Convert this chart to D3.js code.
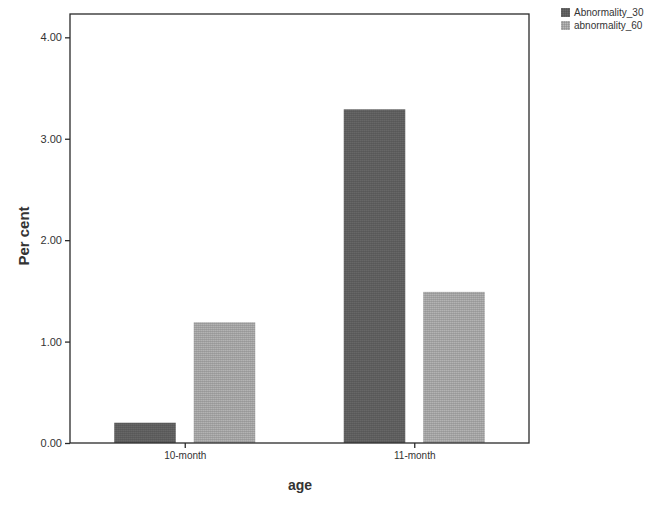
<!DOCTYPE html>
<html>
<head>
<meta charset="utf-8">
<script src="https://cdn.jsdelivr.net/npm/d3@7"></script>
<style>
  body { margin: 0; background: #fff; }
  svg text { font-family: "Liberation Sans", Arial, sans-serif; fill: #333; }
</style>
</head>
<body>
<div id="chart"></div>
<script>
const ages = ["10-month", "11-month"];
const seriesNames = ["Abnormality_30", "abnormality_60"];
const abnormality30 = [0.2, 3.29];
const abnormality60 = [1.19, 1.49];
const yTicks = [0, 1, 2, 3, 4];

const width = 664, height = 518;
const margin = { top: 14, right: 135, bottom: 75, left: 70 };
const colors = { "Abnormality_30": "#5e5e5e", "abnormality_60": "#a2a2a2" };

const svg = d3.select("#chart").append("svg")
  .attr("width", width).attr("height", height);

const defs = svg.append("defs");
// halftone-like texture over the fills
Object.entries(colors).forEach(([k, c], i) => {
  const p = defs.append("pattern")
    .attr("id", "pat" + i).attr("width", 2).attr("height", 2)
    .attr("patternUnits", "userSpaceOnUse");
  p.append("rect").attr("width", 2).attr("height", 2).attr("fill", c);
  p.append("rect").attr("width", 1).attr("height", 1)
    .attr("fill", d3.color(c).brighter(0.35));
  p.append("rect").attr("x", 1).attr("y", 1).attr("width", 1).attr("height", 1)
    .attr("fill", d3.color(c).darker(0.25));
});

const x0 = d3.scalePoint().domain(ages)
  .range([margin.left, width - margin.right]).padding(0.5);
const x1 = d3.scaleBand().domain(seriesNames)
  .range([-70.5, 70.5]).paddingInner(0.226);
const y = d3.scaleLinear().domain([0, 4.23])
  .range([height - margin.bottom, margin.top]);

const data = ages.map((a, i) => ({
  age: a,
  values: [
    { key: seriesNames[0], value: abnormality30[i], pat: "url(#pat0)" },
    { key: seriesNames[1], value: abnormality60[i], pat: "url(#pat1)" },
  ],
}));

svg.append("g").selectAll("g")
  .data(data).join("g")
  .attr("transform", (d) => `translate(${x0(d.age)},0)`)
  .selectAll("rect")
  .data((d) => d.values).join("rect")
  .attr("x", (d) => x1(d.key))
  .attr("width", x1.bandwidth())
  .attr("y", (d) => y(d.value))
  .attr("height", (d) => y(0) - y(d.value))
  .attr("fill", (d) => d.pat);

// frame
svg.append("rect")
  .attr("x", margin.left).attr("y", margin.top)
  .attr("width", width - margin.right - margin.left)
  .attr("height", height - margin.bottom - margin.top)
  .attr("fill", "none").attr("stroke", "#2a2a2a").attr("stroke-width", 1.3);

const gY = svg.append("g")
  .attr("transform", `translate(${margin.left},0)`)
  .call(d3.axisLeft(y).tickValues(yTicks).tickFormat(d3.format(".2f"))
    .tickSize(5).tickPadding(3));
gY.select(".domain").remove();
gY.selectAll("line").attr("stroke", "#2a2a2a").attr("stroke-width", 1.3);
gY.selectAll("text").style("font-size", "11px").attr("fill", "#333");

const gX = svg.append("g")
  .attr("transform", `translate(0,${height - margin.bottom})`)
  .call(d3.axisBottom(x0).tickSize(5).tickPadding(4));
gX.select(".domain").remove();
gX.selectAll("line").attr("stroke", "#2a2a2a").attr("stroke-width", 1.3);
gX.selectAll("text").style("font-size", "10px").attr("fill", "#333");

svg.append("text")
  .attr("x", 300).attr("y", 490)
  .attr("text-anchor", "middle")
  .style("font-size", "14px").style("font-weight", "bold")
  .text("age");

svg.append("text")
  .attr("transform", "translate(29,236) rotate(-90)")
  .attr("text-anchor", "middle")
  .style("font-size", "15px").style("font-weight", "bold")
  .text("Per cent");

const legend = svg.append("g").attr("transform", "translate(561,8)");
legend.selectAll("g")
  .data(seriesNames).join("g")
  .attr("transform", (d, i) => `translate(0,${i * 13})`)
  .call((g) => g.append("rect")
    .attr("width", 9).attr("height", 9)
    .attr("fill", (d, i) => `url(#pat${i})`))
  .call((g) => g.append("text")
    .attr("x", 13).attr("y", 8)
    .style("font-size", "10px")
    .text((d) => d));
</script>
</body>
</html>
